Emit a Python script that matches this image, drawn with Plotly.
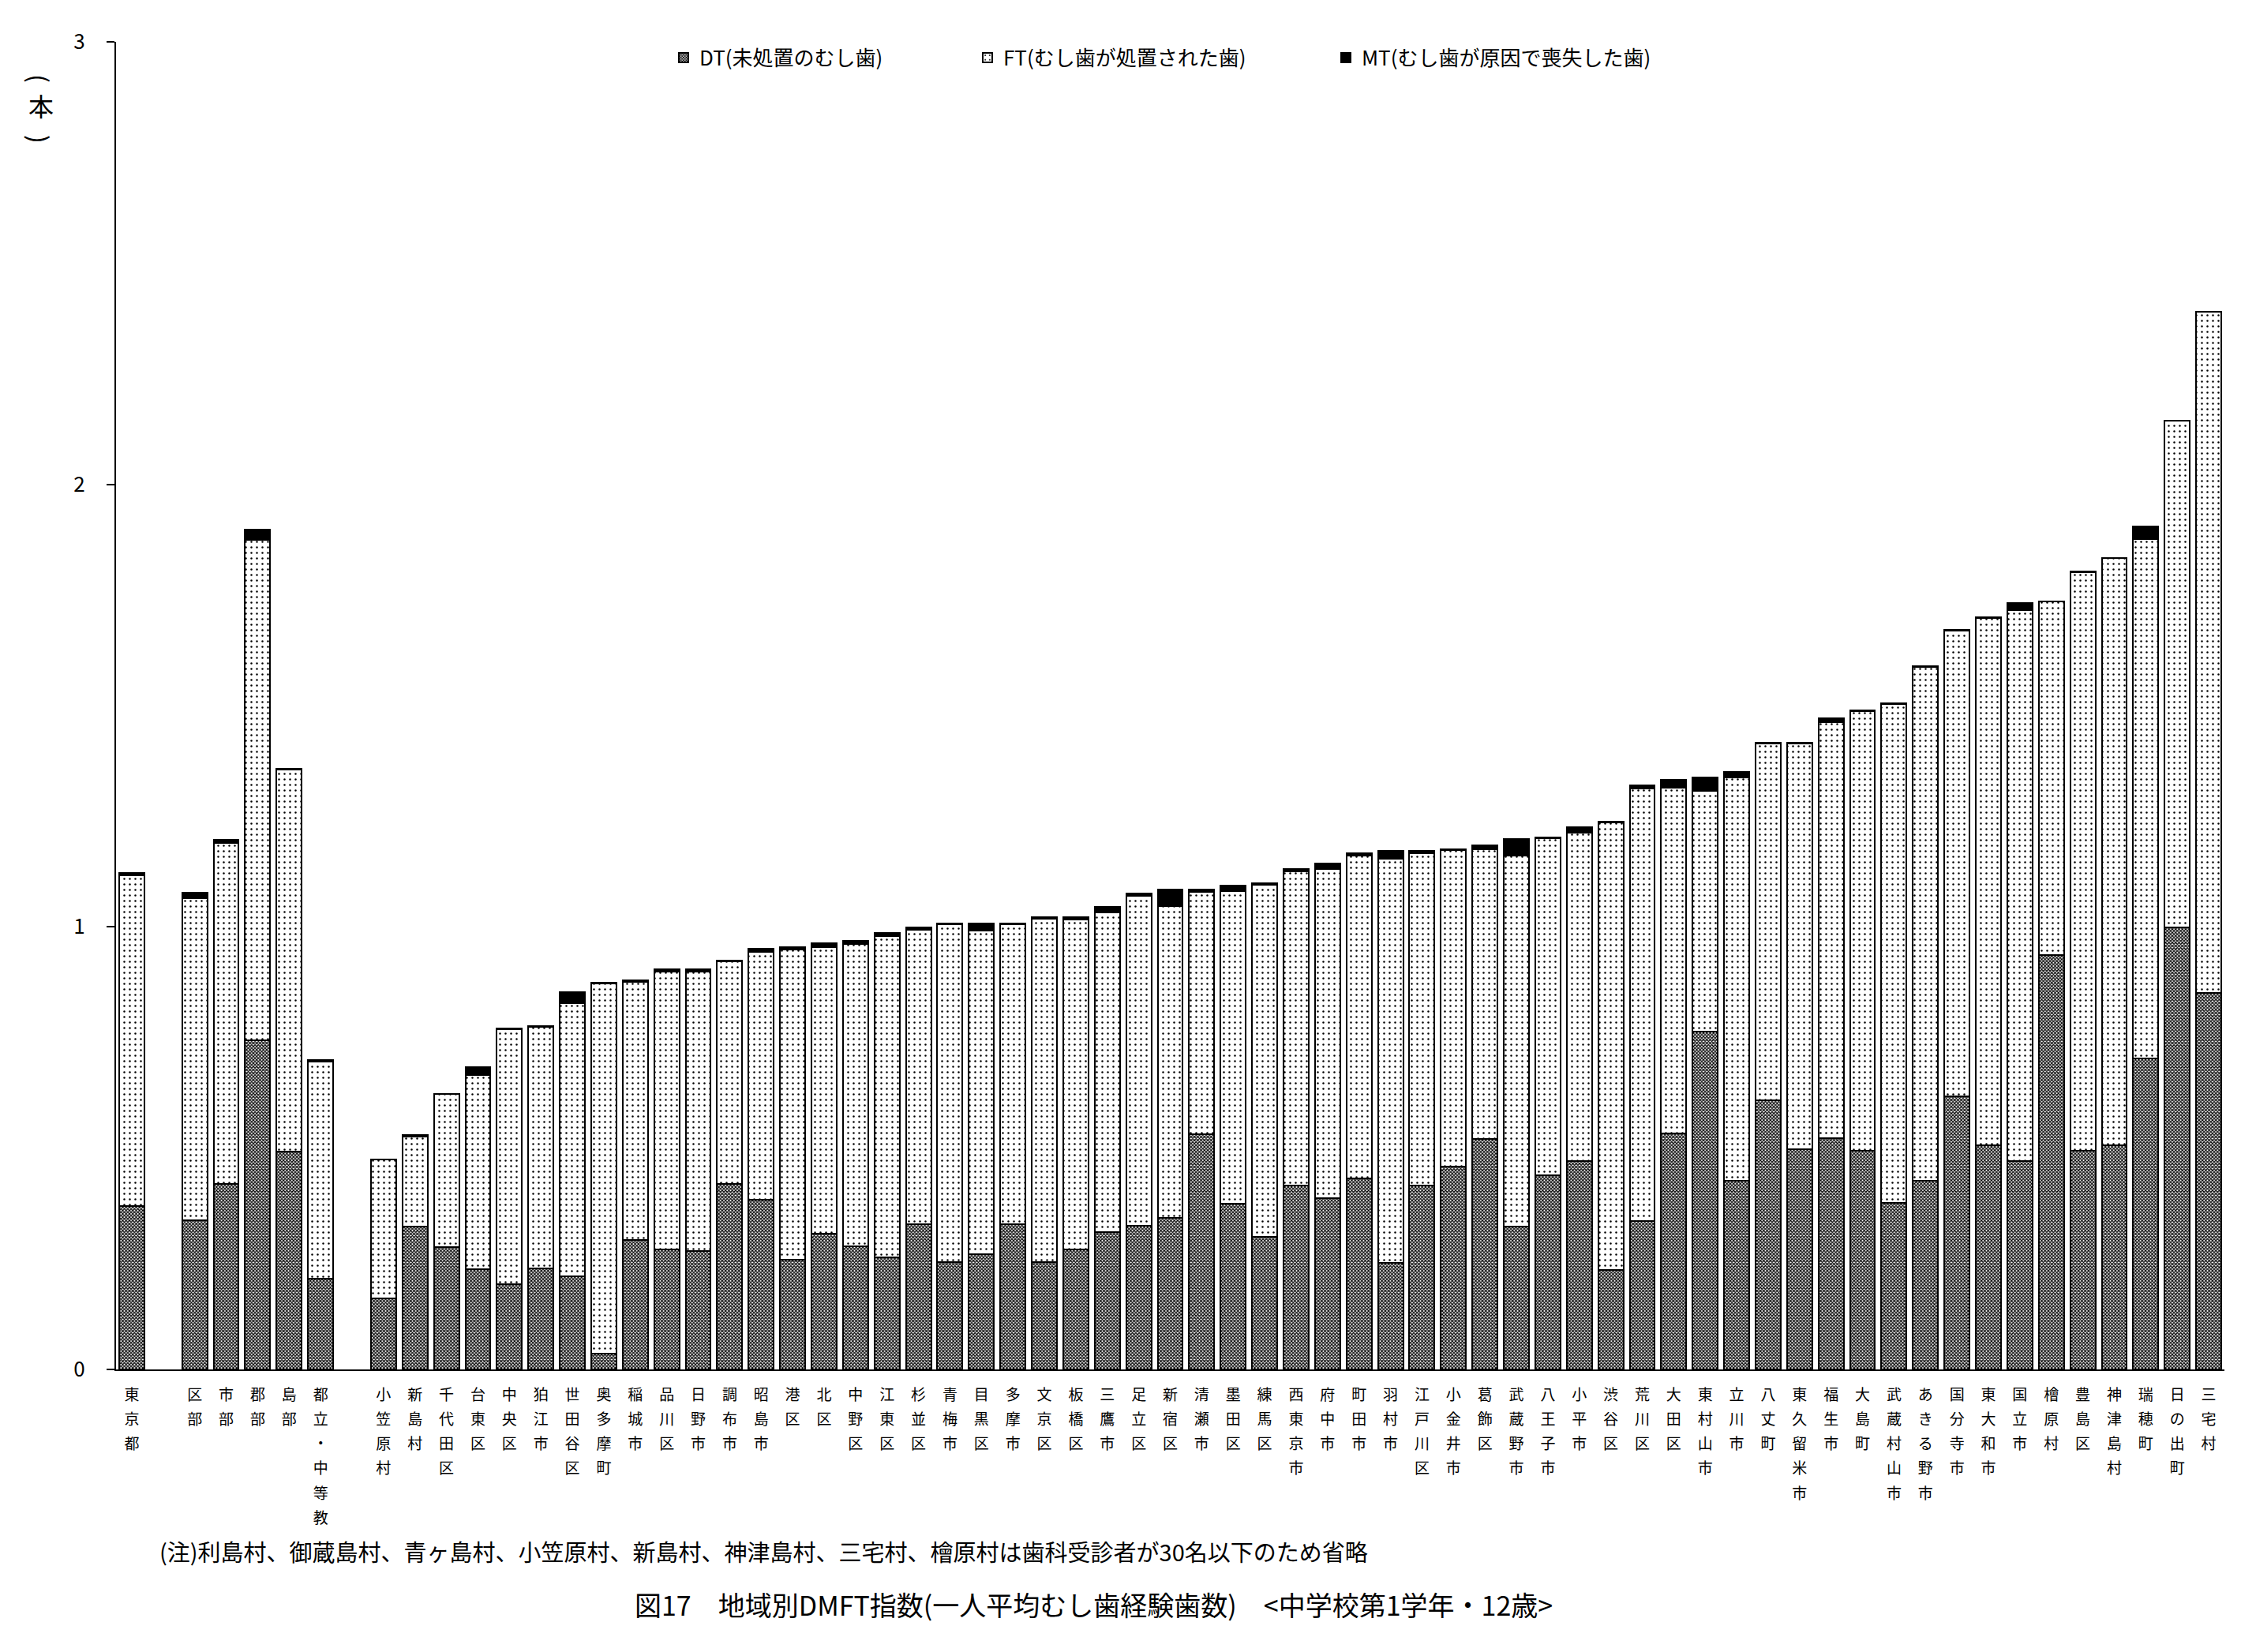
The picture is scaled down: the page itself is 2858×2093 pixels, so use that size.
import plotly.graph_objects as go

FONT = "Noto Sans CJK JP"

# ---- data -------------------------------------------------------------
regions = [
    "東京都",
    "区部", "市部", "郡部", "島部", "都立・中等教",
    "小笠原村", "新島村", "千代田区", "台東区", "中央区", "狛江市", "世田谷区",
    "奥多摩町", "稲城市", "品川区", "日野市", "調布市", "昭島市", "港区", "北区",
    "中野区", "江東区", "杉並区", "青梅市", "目黒区", "多摩市", "文京区", "板橋区",
    "三鷹市", "足立区", "新宿区", "清瀬市", "墨田区", "練馬区", "西東京市", "府中市",
    "町田市", "羽村市", "江戸川区", "小金井市", "葛飾区", "武蔵野市", "八王子市",
    "小平市", "渋谷区", "荒川区", "大田区", "東村山市", "立川市", "八丈町",
    "東久留米市", "福生市", "大島町", "武蔵村山市", "あきる野市", "国分寺市",
    "東大和市", "国立市", "檜原村", "豊島区", "神津島村", "瑞穂町", "日の出町", "三宅村",
]

dt_values = [
    0.370,
    0.337, 0.420, 0.744, 0.492, 0.205,
    0.160, 0.323, 0.277, 0.226, 0.193, 0.229, 0.211,
    0.036, 0.293, 0.272, 0.267, 0.420, 0.383, 0.248, 0.307,
    0.279, 0.253, 0.329, 0.243, 0.261, 0.329, 0.243, 0.271,
    0.311, 0.324, 0.342, 0.532, 0.374, 0.299, 0.416, 0.387,
    0.432, 0.240, 0.416, 0.458, 0.520, 0.322, 0.439,
    0.471, 0.224, 0.335, 0.533, 0.764, 0.426, 0.608,
    0.497, 0.523, 0.494, 0.377, 0.426, 0.617,
    0.507, 0.471, 0.936, 0.494, 0.507, 0.702, 0.998, 0.851,
]

ft_values = [
    0.747,
    0.727, 0.770, 1.131, 0.863, 0.491,
    0.314, 0.204, 0.345, 0.439, 0.576, 0.545, 0.616,
    0.836, 0.583, 0.627, 0.632, 0.502, 0.561, 0.701, 0.647,
    0.683, 0.727, 0.664, 0.763, 0.731, 0.677, 0.776, 0.745,
    0.722, 0.746, 0.705, 0.547, 0.707, 0.796, 0.710, 0.744,
    0.730, 0.914, 0.751, 0.715, 0.656, 0.840, 0.761,
    0.742, 1.012, 0.978, 0.782, 0.543, 0.911, 0.807,
    0.918, 0.940, 0.993, 1.127, 1.162, 1.053,
    1.191, 1.245, 0.800, 1.307, 1.326, 1.174, 1.145, 1.539,
]

mt_values = [
    0.004,
    0.013, 0.006, 0.023, 0.003, 0.004,
    0.000, 0.002, 0.000, 0.019, 0.002, 0.002, 0.025,
    0.002, 0.003, 0.006, 0.006, 0.002, 0.006, 0.006, 0.010,
    0.006, 0.006, 0.006, 0.002, 0.016, 0.002, 0.003, 0.006,
    0.012, 0.006, 0.038, 0.006, 0.013, 0.004, 0.004, 0.012,
    0.004, 0.017, 0.004, 0.002, 0.008, 0.036, 0.002,
    0.012, 0.002, 0.006, 0.017, 0.030, 0.013, 0.002,
    0.002, 0.008, 0.002, 0.002, 0.002, 0.002,
    0.002, 0.016, 0.000, 0.002, 0.000, 0.029, 0.000, 0.000,
]

# empty category slots appear after these region indices (東京都 | summaries | municipalities)
gap_after = [0, 5]

series_names = [
    "DT(未処置のむし歯)",
    "FT(むし歯が処置された歯)",
    "MT(むし歯が原因で喪失した歯)",
]

y_ticks = [0, 1, 2, 3]
y_unit = ["(", "本", ")"]
footnote = "(注)利島村、御蔵島村、青ヶ島村、小笠原村、新島村、神津島村、三宅村、檜原村は歯科受診者が30名以下のため省略"
title_text = "図17　地域別DMFT指数(一人平均むし歯経験歯数)　<中学校第1学年・12歳>"

# ---- derived positions on the category axis ------------------------------
x_pos = [i + sum(1 for g in gap_after if i > g) for i in range(len(regions))]
n_slots = len(regions) + len(gap_after)


def vertical_label(name):
    return "<br>".join('<span style="font-size:19px">%s</span>' % ch for ch in name)


tick_text = [vertical_label(n) for n in regions]

# page geometry (the html body adds an 8 px margin around the figure)
BODY = 8
W, H = 2858 - 2 * BODY, 2093 - 2 * BODY
PLOT_L, PLOT_R, PLOT_T, PLOT_B = 147, 2818, 53, 1735
ML, MT_ = PLOT_L - BODY, PLOT_T - BODY
MR, MB = W - (PLOT_R - BODY), H - (PLOT_B - BODY)
PW, PH = PLOT_R - PLOT_L, PLOT_B - PLOT_T


def px_x(px):
    return (px - PLOT_L) / PW


def px_y(py):
    return (PLOT_B - py) / PH


fig = go.Figure()

line_style = dict(color="black", width=2)

fig.add_trace(go.Bar(
    name=series_names[0], x=x_pos, y=dt_values, width=0.8, legend="legend",
    marker=dict(color="white", line=line_style,
                pattern=dict(shape="x", fgcolor="black", bgcolor="white",
                             size=3, solidity=0.6, fillmode="replace")),
))
fig.add_trace(go.Bar(
    name=series_names[1], x=x_pos, y=ft_values, width=0.8, legend="legend2",
    marker=dict(color="white", line=line_style,
                pattern=dict(shape=".", fgcolor="black", bgcolor="white",
                             size=7, solidity=0.1, fillmode="replace")),
))
fig.add_trace(go.Bar(
    name=series_names[2], x=x_pos, y=mt_values, width=0.8, legend="legend3",
    marker=dict(color="black", line=line_style),
))


def legend_at(square_px):
    return dict(
        orientation="h",
        x=px_x(square_px - 16), xanchor="left",
        y=px_y(73), yanchor="middle",
        font=dict(size=26, family=FONT, color="black"),
        itemwidth=30,
        bgcolor="rgba(0,0,0,0)",
    )


fig.update_layout(
    width=W, height=H,
    margin=dict(l=ML, r=MR, t=MT_, b=MB, autoexpand=False),
    barmode="stack",
    paper_bgcolor="white",
    plot_bgcolor="white",
    font=dict(family=FONT, color="black"),
    showlegend=True,
    legend=legend_at(862),
    legend2=legend_at(1247),
    legend3=legend_at(1701),
    xaxis=dict(
        range=[-0.5, n_slots - 0.5],
        tickmode="array",
        tickvals=x_pos,
        ticktext=tick_text,
        tickangle=0,
        tickfont=dict(size=24, family=FONT, color="black"),
        showline=True, linecolor="black", linewidth=2,
        ticks="", showgrid=False, zeroline=False,
        ticklabelstandoff=8,
    ),
    yaxis=dict(
        range=[0, 3],
        tickmode="array",
        tickvals=y_ticks,
        ticktext=[str(v) for v in y_ticks],
        tickfont=dict(size=26, family=FONT, color="black"),
        showline=True, linecolor="black", linewidth=2,
        ticks="outside", ticklen=10, tickwidth=2, tickcolor="black",
        showgrid=False, zeroline=False,
        ticklabelstandoff=22,
    ),
    annotations=[
        dict(text=y_unit[0], xref="paper", yref="paper", textangle=90,
             x=px_x(51), y=px_y(99), xanchor="center", yanchor="middle",
             showarrow=False, font=dict(size=32, family=FONT, color="black")),
        dict(text=y_unit[1], xref="paper", yref="paper",
             x=px_x(52), y=px_y(133), xanchor="center", yanchor="middle",
             showarrow=False, font=dict(size=32, family=FONT, color="black")),
        dict(text=y_unit[2], xref="paper", yref="paper", textangle=90,
             x=px_x(51), y=px_y(176), xanchor="center", yanchor="middle",
             showarrow=False, font=dict(size=32, family=FONT, color="black")),
        dict(text=footnote, xref="paper", yref="paper",
             x=px_x(200), y=px_y(1965), xanchor="left", yanchor="middle",
             showarrow=False, font=dict(size=29, family=FONT, color="black")),
        dict(text=title_text, xref="paper", yref="paper",
             x=px_x(1385), y=px_y(2032), xanchor="center", yanchor="middle",
             showarrow=False, font=dict(size=34, family=FONT, color="black")),
    ],
)

fig.write_html("out.html", config={"displayModeBar": False})
